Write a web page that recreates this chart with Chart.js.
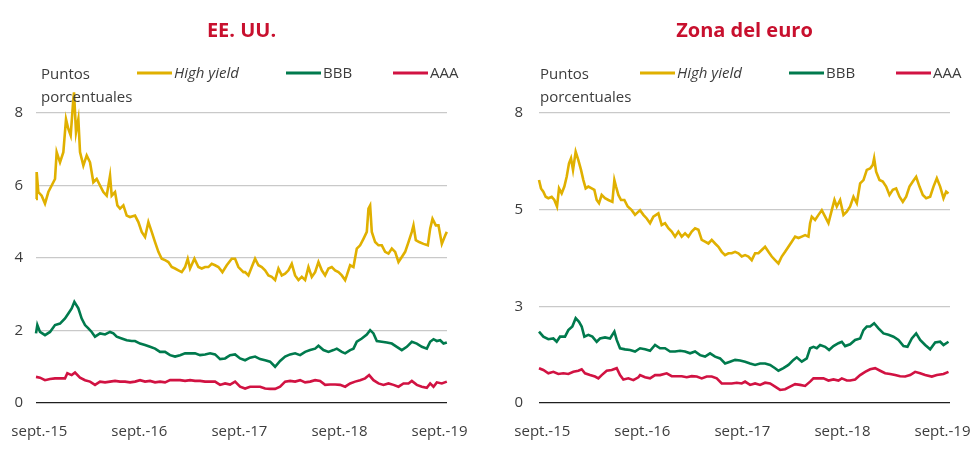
<!DOCTYPE html>
<html>
<head>
<meta charset="utf-8">
<script src="https://cdn.jsdelivr.net/npm/chart.js@4.4.0/dist/chart.umd.min.js"></script>
<style>
  html, body { margin: 0; padding: 0; background: #fff; }
  #wrap { position: relative; width: 971px; height: 456px; }
  #left { position: absolute; left: 0; top: 0; }
  #right { position: absolute; left: 485px; top: 0; }
</style>
</head>
<body>
<div id="wrap">
  <canvas id="left" width="485" height="456"></canvas>
  <canvas id="right" width="486" height="456"></canvas>
</div>
<script>
// x values are months since the start of the series (early Sept. 2015)
const xTickMonths = [0.4, 12.4, 24.4, 36.4, 48.4];
const xTickLabels = ['sept.-15', 'sept.-16', 'sept.-17', 'sept.-18', 'sept.-19'];
const usYTicks = [0, 2, 4, 6, 8];
const euYTicks = [0, 8 / 3, 16 / 3, 8];   // shown rounded: 0, 3, 5, 8
const seriesLabels = ['High yield', 'BBB', 'AAA'];
const unitLines = ['Puntos', 'porcentuales'];

// EE. UU.
const usHighYieldX = [0, 0.08, 0.28, 0.68, 1.08, 1.48, 1.88, 2.28, 2.48, 2.88, 3.28, 3.6, 3.88, 4.16, 4.48, 4.56, 4.8, 5.08, 5.28, 5.68, 6.08, 6.48, 6.88, 7.28, 7.68, 8.08, 8.48, 8.88, 9.08, 9.48, 9.76, 10.08, 10.48, 10.88, 11.28,
  11.88, 12.28, 12.68, 13.08, 13.48, 13.88, 14.28, 14.68, 15.08, 15.48, 15.88, 16.28, 16.68, 17.08, 17.48, 17.88, 18.2, 18.48, 19.0, 19.48, 19.88, 20.28, 20.68, 21.08, 21.48, 21.88, 22.36, 22.88, 23.48, 23.88, 24.28, 24.88,
  25.08, 25.48, 25.88, 26.28, 26.68, 27.08, 27.48, 27.88, 28.28, 28.68, 29.08, 29.48, 29.88, 30.28, 30.68, 31.08, 31.48, 31.88, 32.28, 32.68, 33.08, 33.48, 33.88, 34.28, 34.68, 35.08, 35.48, 35.88, 36.28, 36.68,
  37.08, 37.28, 37.68, 38.08, 38.48, 38.88, 39.28, 39.68, 39.88, 40.08, 40.28, 40.68, 41.08, 41.48, 41.88, 42.28, 42.68, 43.08, 43.48, 43.88, 44.28, 44.68, 45.08, 45.28, 45.56, 45.96, 46.48, 47.0, 47.28, 47.56, 47.96, 48.28, 48.68, 49.08, 49.28];
const usHighYield = [5.63, 6.37, 5.82, 5.72, 5.5, 5.82, 6.0, 6.18, 6.92, 6.64, 6.92, 7.83, 7.56, 7.38, 8.39, 8.57, 7.47, 7.83, 6.92, 6.55, 6.83, 6.64, 6.09, 6.18, 6.0, 5.82, 5.72, 6.27, 5.72, 5.82, 5.45, 5.36, 5.45, 5.17, 5.13,
  5.17, 4.99, 4.72, 4.58, 4.99, 4.72, 4.44, 4.17, 3.98, 3.94, 3.89, 3.75, 3.71, 3.66, 3.61, 3.75, 3.98, 3.71, 3.98, 3.75, 3.71, 3.75, 3.75, 3.84, 3.8, 3.75, 3.61, 3.8, 3.98, 3.98, 3.75, 3.61,
  3.61, 3.52, 3.75, 3.98, 3.8, 3.75, 3.66, 3.52, 3.48, 3.39, 3.71, 3.52, 3.57, 3.66, 3.84, 3.52, 3.39, 3.48, 3.39, 3.75, 3.48, 3.61, 3.89, 3.66, 3.52, 3.71, 3.75, 3.66, 3.61, 3.52,
  3.39, 3.52, 3.8, 3.75, 4.26, 4.35, 4.53, 4.72, 5.36, 5.45, 4.72, 4.44, 4.35, 4.35, 4.17, 4.12, 4.26, 4.17, 3.89, 4.03, 4.17, 4.44, 4.72, 4.9, 4.49, 4.44, 4.39, 4.35, 4.81, 5.08, 4.9, 4.9, 4.39, 4.62, 4.72];

const usBbbX = [0, 0.16, 0.48, 1.08, 1.68, 2.28, 2.88, 3.48, 3.88, 4.28, 4.6, 5.08, 5.48, 5.88, 6.28, 6.68, 7.08, 7.68, 8.28, 8.88, 9.28, 9.68, 10.28, 10.88, 11.48,
  11.88, 12.48, 13.08, 13.68, 14.28, 14.88, 15.48, 16.08, 16.68, 17.28, 17.88, 18.48, 19.08, 19.68, 20.28, 20.88, 21.48, 22.08, 22.68, 23.28, 23.88, 24.48,
  25.08, 25.68, 26.28, 26.88, 27.48, 28.08, 28.68, 29.28, 29.88, 30.48, 31.08, 31.68, 32.28, 32.88, 33.48, 33.88, 34.48, 35.08, 35.68, 36.08, 36.68,
  37.08, 37.68, 38.08, 38.48, 39.08, 39.68, 40.08, 40.48, 40.88, 41.48, 42.08, 42.68, 43.28, 43.88, 44.48, 45.08, 45.68, 46.28, 46.88, 47.28, 47.68, 48.08, 48.48, 48.88, 49.28];
const usBbb = [1.92, 2.15, 1.96, 1.87, 1.96, 2.15, 2.19, 2.33, 2.47, 2.61, 2.79, 2.61, 2.33, 2.15, 2.06, 1.96, 1.83, 1.92, 1.89, 1.96, 1.92, 1.83, 1.78, 1.73, 1.71,
  1.71, 1.64, 1.6, 1.55, 1.5, 1.41, 1.41, 1.32, 1.28, 1.32, 1.37, 1.37, 1.37, 1.32, 1.34, 1.37, 1.34, 1.21, 1.23, 1.32, 1.34, 1.23,
  1.18, 1.25, 1.28, 1.21, 1.18, 1.14, 1.0, 1.16, 1.28, 1.34, 1.37, 1.32, 1.41, 1.46, 1.5, 1.58, 1.46, 1.41, 1.46, 1.5, 1.41,
  1.37, 1.46, 1.5, 1.69, 1.78, 1.89, 2.01, 1.92, 1.71, 1.69, 1.67, 1.64, 1.55, 1.46, 1.55, 1.69, 1.64, 1.55, 1.5, 1.69, 1.76, 1.71, 1.73, 1.64, 1.67];

const usAaaX = [0, 0.48, 1.08, 1.68, 2.28, 2.88, 3.48, 3.76, 4.28, 4.68, 5.28, 5.88, 6.48, 7.08, 7.68, 8.28, 8.88, 9.48, 10.08, 10.68, 11.28,
  11.88, 12.48, 13.08, 13.68, 14.28, 14.88, 15.48, 16.08, 16.68, 17.28, 17.88, 18.48, 19.08, 19.68, 20.28, 20.88, 21.48, 22.08, 22.68, 23.28, 23.88, 24.48,
  25.08, 25.68, 26.28, 26.88, 27.48, 28.08, 28.68, 29.28, 29.88, 30.48, 31.08, 31.68, 32.28, 32.88, 33.48, 34.08, 34.68, 35.28, 35.88, 36.48,
  37.08, 37.68, 38.28, 38.88, 39.48, 39.96, 40.48, 41.08, 41.68, 42.28, 42.88, 43.48, 44.08, 44.68, 45.08, 45.68, 46.28, 46.88, 47.28, 47.68, 48.08, 48.68, 49.28];
const usAaa = [0.72, 0.7, 0.63, 0.66, 0.68, 0.68, 0.68, 0.82, 0.77, 0.84, 0.7, 0.63, 0.59, 0.5, 0.59, 0.57, 0.59, 0.61, 0.59, 0.59, 0.57,
  0.59, 0.63, 0.59, 0.61, 0.57, 0.59, 0.57, 0.63, 0.63, 0.63, 0.61, 0.63, 0.61, 0.61, 0.59, 0.59, 0.59, 0.5, 0.54, 0.51, 0.59, 0.45,
  0.4, 0.45, 0.45, 0.45, 0.4, 0.39, 0.39, 0.45, 0.59, 0.61, 0.59, 0.63, 0.57, 0.59, 0.63, 0.61, 0.5, 0.51, 0.51, 0.5,
  0.45, 0.54, 0.59, 0.63, 0.68, 0.77, 0.63, 0.54, 0.5, 0.54, 0.5, 0.45, 0.54, 0.54, 0.61, 0.5, 0.45, 0.42, 0.54, 0.45, 0.57, 0.54, 0.59];

// Zona del euro
const euHighYieldX = [0, 0.24, 0.52, 0.8, 1.12, 1.52, 1.84, 2.16, 2.4, 2.72, 3.04, 3.32, 3.6, 3.84, 4.08, 4.4, 4.72, 5.04, 5.32, 5.6, 5.92, 6.32, 6.64, 6.92, 7.2, 7.52, 7.92, 8.32, 8.8, 9.04, 9.24, 9.52, 9.84, 10.24, 10.64, 11.12, 11.52,
  12.12, 12.52, 12.92, 13.32, 13.72, 14.32, 14.72, 15.12, 15.52, 15.92, 16.32, 16.72, 17.12, 17.52, 17.92, 18.32, 18.72, 19.12, 19.52, 19.92, 20.32, 20.72, 21.12, 21.52, 21.92, 22.32, 22.72, 23.12, 23.52, 23.92, 24.32,
  24.72, 25.12, 25.52, 25.92, 26.32, 26.72, 27.12, 27.52, 27.92, 28.32, 28.72, 29.12, 29.52, 29.92, 30.32, 30.72, 31.12, 31.52, 31.92, 32.32, 32.52, 32.72, 33.12, 33.52, 33.92, 34.32, 34.72, 35.12, 35.44, 35.72, 36.12, 36.52, 36.92,
  37.32, 37.72, 38.12, 38.52, 38.92, 39.32, 39.72, 40.04, 40.2, 40.44, 40.84, 41.24, 41.64, 42.04, 42.44, 42.84, 43.24, 43.64, 44.04, 44.44, 44.84, 45.24, 45.64, 46.04, 46.44, 46.92, 47.32, 47.72, 48.12, 48.52, 48.84, 49.12];
const euHighYield = [6.15, 5.92, 5.83, 5.69, 5.65, 5.69, 5.6, 5.42, 5.92, 5.78, 5.97, 6.24, 6.61, 6.75, 6.43, 6.93, 6.7, 6.43, 6.15, 5.92, 5.97, 5.92, 5.88, 5.6, 5.51, 5.74, 5.65, 5.6, 5.55, 6.15, 5.97, 5.74, 5.6, 5.6, 5.42, 5.32, 5.19,
  5.32, 5.19, 5.09, 4.96, 5.14, 5.23, 4.91, 4.96, 4.82, 4.73, 4.59, 4.73, 4.59, 4.68, 4.59, 4.73, 4.82, 4.78, 4.5, 4.45, 4.4, 4.5, 4.4, 4.31, 4.17, 4.08, 4.13, 4.13, 4.17, 4.13, 4.04,
  4.08, 4.04, 3.94, 4.13, 4.13, 4.22, 4.31, 4.17, 4.04, 3.94, 3.85, 4.04, 4.17, 4.31, 4.45, 4.59, 4.55, 4.59, 4.63, 4.59, 4.96, 5.14, 5.05, 5.19, 5.32, 5.14, 4.96, 5.32, 5.6, 5.42, 5.6, 5.19, 5.28,
  5.42, 5.69, 5.51, 6.06, 6.15, 6.43, 6.47, 6.57, 6.75, 6.38, 6.15, 6.11, 5.97, 5.74, 5.88, 5.92, 5.69, 5.55, 5.69, 5.97, 6.11, 6.24, 5.97, 5.74, 5.65, 5.69, 5.97, 6.2, 5.97, 5.65, 5.83, 5.78];

const euBbbX = [0, 0.52, 1.12, 1.72, 2.12, 2.52, 3.12, 3.52, 4.0, 4.4, 4.8, 5.12, 5.44, 5.92, 6.4, 6.92, 7.32, 7.92, 8.52, 9.04, 9.32, 9.72, 10.32, 10.92, 11.52,
  12.12, 12.72, 13.32, 13.92, 14.52, 15.12, 15.72, 16.32, 16.92, 17.52, 18.12, 18.72, 19.32, 19.92, 20.52, 21.12, 21.72, 22.32, 22.92, 23.52, 24.12,
  24.72, 25.32, 25.92, 26.52, 27.12, 27.72, 28.32, 28.72, 29.32, 29.92, 30.52, 30.92, 31.52, 32.12, 32.52, 32.92, 33.32, 33.72, 34.32, 34.8, 35.32, 35.92, 36.32, 36.72,
  37.32, 37.92, 38.52, 38.92, 39.32, 39.72, 40.2, 40.72, 41.32, 41.92, 42.52, 43.12, 43.72, 44.2, 44.72, 45.24, 45.72, 46.32, 46.92, 47.52, 48.12, 48.52, 49.12];
const euBbb = [1.97, 1.83, 1.76, 1.78, 1.69, 1.83, 1.83, 2.01, 2.11, 2.34, 2.24, 2.11, 1.83, 1.88, 1.83, 1.69, 1.78, 1.81, 1.78, 1.97, 1.74, 1.51, 1.48, 1.46, 1.42,
  1.51, 1.48, 1.44, 1.6, 1.51, 1.51, 1.42, 1.42, 1.44, 1.42, 1.37, 1.42, 1.32, 1.28, 1.37, 1.28, 1.23, 1.09, 1.14, 1.19, 1.17,
  1.14, 1.09, 1.05, 1.09, 1.09, 1.05, 0.96, 0.89, 0.96, 1.05, 1.19, 1.26, 1.14, 1.23, 1.51, 1.55, 1.51, 1.6, 1.55, 1.46, 1.57, 1.65, 1.69, 1.57,
  1.62, 1.74, 1.78, 2.01, 2.11, 2.11, 2.2, 2.06, 1.92, 1.88, 1.83, 1.74, 1.57, 1.55, 1.78, 1.92, 1.74, 1.6, 1.48, 1.67, 1.69, 1.6, 1.69];

const euAaaX = [0, 0.52, 1.12, 1.72, 2.32, 2.92, 3.52, 4.12, 4.72, 5.12, 5.52, 6.12, 6.72, 7.12, 7.52, 8.12, 8.72, 9.32, 9.72, 10.12, 10.72, 11.32, 11.92,
  12.12, 12.72, 13.32, 13.92, 14.52, 15.32, 15.92, 16.52, 17.12, 17.72, 18.32, 18.92, 19.52, 20.12, 20.72, 21.32, 21.92, 22.52, 23.12, 23.72, 24.32,
  24.72, 25.32, 25.92, 26.52, 27.12, 27.72, 28.32, 28.92, 29.52, 30.12, 30.72, 31.32, 31.92, 32.52, 32.92, 33.52, 34.12, 34.72, 35.32, 35.92, 36.32, 36.92,
  37.32, 37.92, 38.52, 39.12, 39.72, 40.32, 40.92, 41.52, 42.12, 42.72, 43.32, 43.92, 44.52, 45.12, 45.72, 46.32, 47.12, 47.72, 48.52, 49.12];
const euAaa = [0.96, 0.91, 0.82, 0.86, 0.8, 0.82, 0.8, 0.86, 0.89, 0.93, 0.82, 0.77, 0.73, 0.68, 0.77, 0.89, 0.91, 0.96, 0.77, 0.65, 0.68, 0.63, 0.71,
  0.77, 0.71, 0.68, 0.77, 0.77, 0.82, 0.74, 0.74, 0.74, 0.71, 0.74, 0.73, 0.68, 0.73, 0.73, 0.68, 0.54, 0.54, 0.54, 0.56, 0.54,
  0.59, 0.5, 0.54, 0.5, 0.56, 0.54, 0.45, 0.36, 0.38, 0.45, 0.52, 0.5, 0.47, 0.59, 0.68, 0.68, 0.68, 0.62, 0.65, 0.62, 0.68, 0.62,
  0.62, 0.65, 0.77, 0.86, 0.93, 0.96, 0.89, 0.82, 0.8, 0.77, 0.74, 0.73, 0.77, 0.86, 0.82, 0.77, 0.73, 0.77, 0.8, 0.86];

const colors = ['#e0b000', '#007a4d', '#d11242'];
const titleColor = '#c8102e';
const textColor = '#3c3c3c';
const fontFamily = '"Open Sans", "Noto Sans", sans-serif';

function toPoints(xs, ys) {
  return xs.map((x, i) => ({ x: x, y: ys[i] }));
}

function makeDatasets(series) {
  return series.map((pts, i) => ({
    label: seriesLabels[i],
    data: pts,
    borderColor: colors[i],
    backgroundColor: colors[i],
    borderWidth: 2.6,
    pointRadius: 0,
    tension: 0,
    clip: false
  }));
}

// title, unit text and legend, drawn at fixed spots like the original
const headerPlugin = {
  id: 'header',
  afterDraw(chart, args, opts) {
    const { ctx, chartArea } = chart;
    const left = chartArea.left;
    ctx.save();
    ctx.textBaseline = 'middle';
    ctx.textAlign = 'center';
    ctx.fillStyle = titleColor;
    ctx.font = 'bold 20px ' + fontFamily;
    ctx.fillText(opts.title, (chartArea.left + chartArea.right) / 2, 31);

    ctx.textAlign = 'left';
    ctx.fillStyle = textColor;
    ctx.font = '15px ' + fontFamily;
    unitLines.forEach((t, i) => ctx.fillText(t, left + opts.unitDx, 75 + i * 23));

    const offsets = [101, 250, 357];
    chart.data.datasets.forEach((ds, i) => {
      const x = left + offsets[i];
      ctx.strokeStyle = ds.borderColor;
      ctx.lineWidth = 3;
      ctx.beginPath();
      ctx.moveTo(x, 73);
      ctx.lineTo(x + 35, 73);
      ctx.stroke();
      ctx.fillStyle = textColor;
      ctx.font = (i === 0 ? 'italic ' : '') + '15px ' + fontFamily;
      ctx.fillText(ds.label, x + 37, 74);
    });
    ctx.restore();
  }
};

function makeConfig(title, series, yTicks, yWidth, yPad, padRight, unitDx) {
  return {
    type: 'line',
    data: { datasets: makeDatasets(series) },
    options: {
      responsive: false,
      animation: false,
      layout: { padding: { top: 113, left: 0, right: padRight, bottom: 0 } },
      plugins: {
        legend: { display: false },
        title: { display: false },
        tooltip: { enabled: false },
        header: { title: title, unitDx: unitDx }
      },
      scales: {
        x: {
          type: 'linear',
          min: 0,
          max: 49.3,
          afterBuildTicks: (scale) => { scale.ticks = xTickMonths.map(v => ({ value: v })); },
          afterFit: (scale) => {
            scale.height = 53;
            scale.paddingLeft = 0;
            scale.paddingRight = 0;
          },
          grid: { display: false, drawTicks: false },
          border: { display: false },
          ticks: {
            padding: 20,
            color: textColor,
            font: { family: fontFamily, size: 15 },
            maxRotation: 0,
            autoSkip: false,
            callback: (value, index) => xTickLabels[index]
          }
        },
        y: {
          min: 0,
          max: 8,
          afterBuildTicks: (scale) => { scale.ticks = yTicks.map(v => ({ value: v })); },
          afterFit: (scale) => { scale.width = yWidth; },
          grid: {
            drawTicks: false,
            color: (c) => c.tick && c.tick.value === 0 ? '#1e1e1e' : '#c9c9c9',
            lineWidth: 1.3
          },
          border: { display: false },
          ticks: {
            padding: yPad,
            color: textColor,
            font: { family: fontFamily, size: 15 },
            callback: (value) => Math.round(value)
          }
        }
      }
    },
    plugins: [headerPlugin]
  };
}

window.addEventListener('load', () => {
  new Chart(document.getElementById('left'), makeConfig('EE. UU.',
    [toPoints(usHighYieldX, usHighYield), toPoints(usBbbX, usBbb), toPoints(usAaaX, usAaa)],
    usYTicks, 36, 13, 38, 5));
  new Chart(document.getElementById('right'), makeConfig('Zona del euro',
    [toPoints(euHighYieldX, euHighYield), toPoints(euBbbX, euBbb), toPoints(euAaaX, euAaa)],
    euYTicks, 54, 16, 21, 1));
});
</script>
</body>
</html>
